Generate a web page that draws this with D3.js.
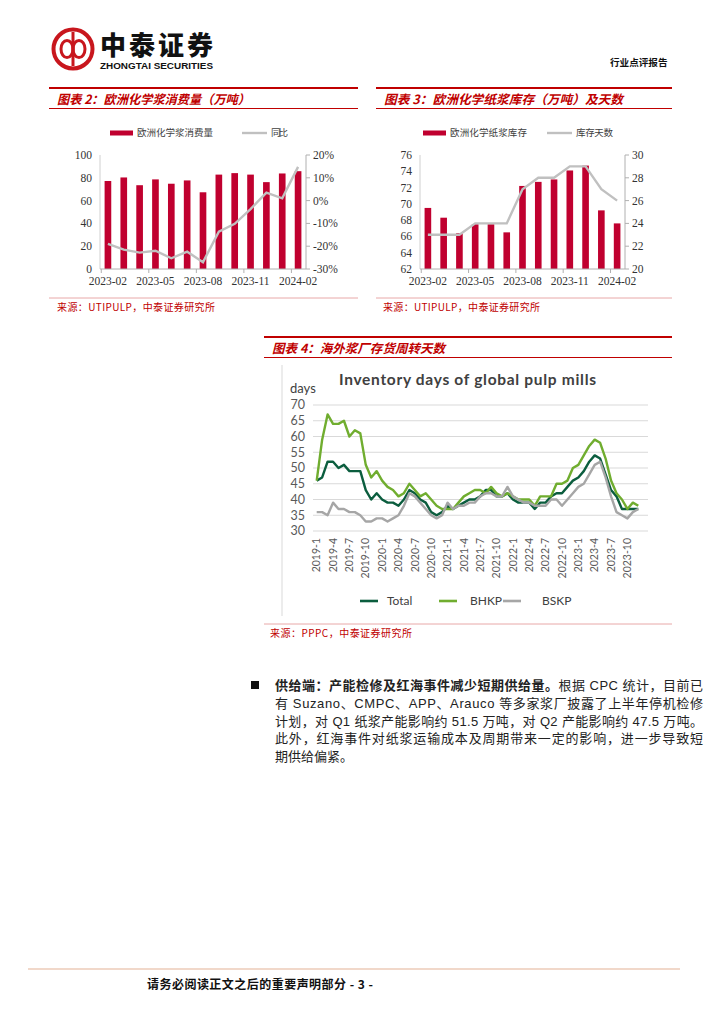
<!DOCTYPE html>
<html><head><meta charset="utf-8">
<script src="https://cdn.jsdelivr.net/npm/d3@7"></script>
<style>body{margin:0;background:#fff}svg{display:block}</style>
</head><body>
<svg id="page" width="724" height="1024"></svg>
<script>
// ---------- DATA ----------
const months2 = ["2023-02","2023-03","2023-04","2023-05","2023-06","2023-07","2023-08","2023-09","2023-10","2023-11","2023-12","2024-01","2024-02"];
const monthTicks2 = ["2023-02","2023-05","2023-08","2023-11","2024-02"];
const consumption = [77.2, 80.3, 73.5, 78.6, 74.8, 77.7, 67.3, 82.8, 84.1, 82.8, 76.2, 83.8, 85.8];
const consumptionYoY = [-19, -21.5, -22.8, -22, -25.3, -22.4, -27, -13.6, -10.2, -3.7, 3.5, 1, 14.8];
const leftTicks2 = [0, 20, 40, 60, 80, 100];
const rightTicks2 = [-30, -20, -10, 0, 10, 20];

const inventory = [69.5, 68.3, 66.4, 67.5, 67.5, 66.5, 72.2, 72.7, 73.0, 74.1, 74.7, 69.2, 67.6];
const inventoryDays = [23, 23, 23, 24, 24, 24, 27, 28, 28, 29, 29, 27, 26];
const leftTicks3 = [62, 64, 66, 68, 70, 72, 74, 76];
const rightTicks3 = [20, 22, 24, 26, 28, 30];

const pulpMonths = ["2019-1","2019-2","2019-3","2019-4","2019-5","2019-6","2019-7","2019-8","2019-9","2019-10","2019-11","2019-12",
"2020-1","2020-2","2020-3","2020-4","2020-5","2020-6","2020-7","2020-8","2020-9","2020-10","2020-11","2020-12",
"2021-1","2021-2","2021-3","2021-4","2021-5","2021-6","2021-7","2021-8","2021-9","2021-10","2021-11","2021-12",
"2022-1","2022-2","2022-3","2022-4","2022-5","2022-6","2022-7","2022-8","2022-9","2022-10","2022-11","2022-12",
"2023-1","2023-2","2023-3","2023-4","2023-5","2023-6","2023-7","2023-8","2023-9","2023-10","2023-11","2023-12"];
const pulpTicks = ["2019-1","2019-4","2019-7","2019-10","2020-1","2020-4","2020-7","2020-10","2021-1","2021-4","2021-7","2021-10","2022-1","2022-4","2022-7","2022-10","2023-1","2023-4","2023-7","2023-10"];
const totalDays = [46,47,52,52,50,51,49,49,49,43,40,42,40,39,39,38,40,43,42,40,39,36,35,36,38,37,38,39,40,40,41,43,43,41,41,42,40,39,39,39,37,39,39,41,42,42,44,46,47,49,52,54,53,48,43,41,37,37,37,37];
const bhkpDays  = [46,59,67,64,64,65,60,62,61,51,47,49,46,44,43,41,42,45,43,41,42,40,38,37,37,37,39,41,42,43,43,42,44,42,41,42,41,40,40,40,38,41,41,41,45,45,46,50,51,54,57,59,58,53,46,42,40,37,39,38];
const bskpDays  = [36,36,35,39,37,37,36,36,35,33,33,34,34,33,34,35,38,42,41,39,37,35,34,35,39,37,38,38,39,39,41,42,42,41,41,44,41,40,39,39,38,38,38,40,40,38,40,42,44,45,48,51,52,47,41,36,35,34,36,37];
const pulpYTicks = [30, 35, 40, 45, 50, 55, 60, 65, 70];

// ---------- STYLE ----------
const RED = "#c00000";
const BAR = "#c0002f";
const GREYLINE = "#c0c0c0";
const CJK = "'Noto Sans CJK SC', sans-serif";
const SERIF = "'Liberation Serif', 'DejaVu Serif', serif";

const svg = d3.select("#page");

// ---------- HEADER ----------
const logo = svg.append("g");
logo.append("circle").attr("cx", 73).attr("cy", 49).attr("r", 19.5).attr("fill", "none").attr("stroke", "#c8161d").attr("stroke-width", 4);
logo.append("ellipse").attr("cx", 67).attr("cy", 49).attr("rx", 6).attr("ry", 8.5).attr("fill", "none").attr("stroke", "#c8161d").attr("stroke-width", 3);
logo.append("ellipse").attr("cx", 79).attr("cy", 49).attr("rx", 6).attr("ry", 8.5).attr("fill", "none").attr("stroke", "#c8161d").attr("stroke-width", 3);
logo.append("line").attr("x1", 73).attr("x2", 73).attr("y1", 32).attr("y2", 66).attr("stroke", "#c8161d").attr("stroke-width", 3);
svg.append("text").attr("x", 100).attr("y", 55).attr("font-family", CJK).attr("font-weight", 900).attr("font-size", 26)
  .attr("textLength", 113).attr("fill", "#111").text("中泰证券");
svg.append("text").attr("x", 100).attr("y", 68.5).attr("font-family", "'Liberation Sans', Arial, sans-serif").attr("font-weight", 700).attr("font-size", 8.5)
  .attr("textLength", 113).attr("lengthAdjust", "spacingAndGlyphs").attr("fill", "#111").text("ZHONGTAI SECURITIES");
svg.append("text").attr("x", 610).attr("y", 66).attr("font-family", CJK).attr("font-weight", 700).attr("font-size", 9.6)
  .attr("fill", "#111").text("行业点评报告");

// ---------- helpers ----------
function titleBar(x0, x1, yTop, text, tx, width) {
  svg.append("line").attr("x1", x0).attr("x2", x1).attr("y1", yTop).attr("y2", yTop).attr("stroke", RED).attr("stroke-width", 2);
  svg.append("line").attr("x1", x0).attr("x2", x1).attr("y1", yTop + 20.5).attr("y2", yTop + 20.5).attr("stroke", RED).attr("stroke-width", 1.2);
  svg.append("text").attr("x", tx).attr("y", yTop + 16).attr("font-family", CJK).attr("font-weight", 700).attr("font-style", "italic")
    .attr("font-size", 12.5).attr("fill", RED).attr("textLength", width).attr("lengthAdjust", "spacingAndGlyphs").text(text);
}
function sourceBar(x0, x1, y, text, tx, width) {
  svg.append("line").attr("x1", x0).attr("x2", x1).attr("y1", y).attr("y2", y).attr("stroke", "#e8a8a8").attr("stroke-width", 1);
  svg.append("text").attr("x", tx).attr("y", y + 12.5).attr("font-family", CJK).attr("font-size", 10)
    .attr("fill", RED).attr("textLength", width).text(text);
}

function barLine(cfg) {
  const g = svg.append("g");
  const x = d3.scaleBand().domain(cfg.cats).range([cfg.x0, cfg.x1]).paddingInner(0.58).paddingOuter(0.29);
  const yL = d3.scaleLinear().domain(cfg.lDom).range([cfg.yB, cfg.yT]);
  const yR = d3.scaleLinear().domain(cfg.rDom).range([cfg.yB, cfg.yT]);
  g.selectAll("rect.bar").data(cfg.bars).join("rect").attr("class", "bar")
    .attr("x", (d, i) => x(cfg.cats[i])).attr("width", x.bandwidth())
    .attr("y", d => yL(d)).attr("height", d => cfg.yB - yL(d)).attr("fill", BAR);
  g.append("line").attr("x1", cfg.x0).attr("x2", cfg.x0).attr("y1", cfg.yT).attr("y2", cfg.yB).attr("stroke", "#d0d0d0");
  g.append("line").attr("x1", cfg.x1).attr("x2", cfg.x1).attr("y1", cfg.yT).attr("y2", cfg.yB).attr("stroke", "#b0b0b0");
  g.append("line").attr("x1", cfg.x0).attr("x2", cfg.x1).attr("y1", cfg.yB).attr("y2", cfg.yB).attr("stroke", "#b0b0b0");
  g.selectAll("line.rt").data(cfg.rTicks).join("line").attr("class", "rt")
    .attr("x1", cfg.x1).attr("x2", cfg.x1 + 4).attr("y1", d => yR(d)).attr("y2", d => yR(d)).attr("stroke", "#b0b0b0");
  g.selectAll("line.xt").data(cfg.xTicks).join("line").attr("class", "xt")
    .attr("x1", d => x(d) - x.step() * 0.21).attr("x2", d => x(d) - x.step() * 0.21)
    .attr("y1", cfg.yB).attr("y2", cfg.yB + 4).attr("stroke", "#b0b0b0");
  const line = d3.line().x((d, i) => x(cfg.cats[i]) + x.bandwidth() / 2).y(d => yR(d));
  g.append("path").datum(cfg.line).attr("d", line).attr("fill", "none").attr("stroke", GREYLINE).attr("stroke-width", 2.4);
  g.selectAll("text.lt").data(cfg.lTicks).join("text").attr("class", "lt")
    .attr("x", cfg.x0 - 8).attr("y", d => yL(d)).attr("dy", "0.35em").attr("text-anchor", "end")
    .attr("font-family", SERIF).attr("font-size", 11.5).attr("fill", "#333").text(d => d);
  g.selectAll("text.rtl").data(cfg.rTicks).join("text").attr("class", "rtl")
    .attr("x", cfg.x1 + 7).attr("y", d => yR(d)).attr("dy", "0.35em").attr("text-anchor", "start")
    .attr("font-family", SERIF).attr("font-size", 11.5).attr("fill", "#333").text(cfg.rFmt);
  g.selectAll("text.xl").data(cfg.xTicks).join("text").attr("class", "xl")
    .attr("x", d => x(d) + x.bandwidth() / 2).attr("y", cfg.yB + 16).attr("text-anchor", "middle")
    .attr("font-family", SERIF).attr("font-size", 11.5).attr("fill", "#333").text(d => d);
  const ly = cfg.legendY;
  g.append("rect").attr("x", cfg.leg[0]).attr("y", ly - 2.5).attr("width", 23).attr("height", 5).attr("fill", BAR);
  g.append("text").attr("x", cfg.leg[0] + 27).attr("y", ly).attr("dy", "0.35em").attr("font-family", CJK).attr("font-size", 9.5)
    .attr("fill", "#404040").attr("textLength", cfg.legW[0]).text(cfg.names[0]);
  g.append("line").attr("x1", cfg.leg[1]).attr("x2", cfg.leg[1] + 25).attr("y1", ly).attr("y2", ly).attr("stroke", GREYLINE).attr("stroke-width", 2.4);
  g.append("text").attr("x", cfg.leg[1] + 29).attr("y", ly).attr("dy", "0.35em").attr("font-family", CJK).attr("font-size", 9.5)
    .attr("fill", "#404040").attr("textLength", cfg.legW[1]).text(cfg.names[1]);
}

// ---------- CHART 2 ----------
titleBar(49, 358, 88, "图表 2：欧洲化学浆消费量（万吨）", 57, 193);
barLine({cats: months2, bars: consumption, line: consumptionYoY, x0: 100, x1: 306, yT: 155, yB: 269,
  lDom: [0, 100], rDom: [-30, 20], lTicks: leftTicks2, rTicks: rightTicks2, rFmt: d => d + "%",
  xTicks: monthTicks2, legendY: 133, leg: [110, 242], legW: [76, 17], names: ["欧洲化学浆消费量", "同比"]});
sourceBar(49, 358, 298, "来源：UTIPULP，中泰证券研究所", 57, 158);

// ---------- CHART 3 ----------
titleBar(376, 672, 88, "图表 3：欧洲化学纸浆库存（万吨）及天数", 384, 239);
barLine({cats: months2, bars: inventory, line: inventoryDays, x0: 420, x1: 625, yT: 155, yB: 269,
  lDom: [62, 76], rDom: [20, 30], lTicks: leftTicks3, rTicks: rightTicks3, rFmt: d => d,
  xTicks: monthTicks2, legendY: 133, leg: [423, 547], legW: [77, 37], names: ["欧洲化学纸浆库存", "库存天数"]});
sourceBar(376, 672, 298, "来源：UTIPULP，中泰证券研究所", 383, 157);

// ---------- CHART 4 ----------
titleBar(264, 672, 337, "图表 4：海外浆厂存货周转天数", 272, 173);
const g4 = svg.append("g");
const LATO = "Lato, 'Open Sans', sans-serif";
g4.append("line").attr("x1", 282).attr("x2", 282).attr("y1", 365).attr("y2", 616).attr("stroke", "#d9d9d9");
g4.append("text").attr("x", 339).attr("y", 385).attr("font-family", LATO).attr("font-weight", 700).attr("font-size", 15.5)
  .attr("fill", "#404040").attr("textLength", 257).text("Inventory days of global pulp mills");
g4.append("text").attr("x", 290).attr("y", 393).attr("font-family", LATO).attr("font-size", 13).attr("fill", "#404040").text("days");
const x4 = d3.scalePoint().domain(pulpMonths).range([316.7, 638.3]);
const y4 = d3.scaleLinear().domain([30, 70]).range([531, 405]);
g4.selectAll("line.grid").data(pulpYTicks).join("line").attr("class", "grid")
  .attr("x1", 313).attr("x2", 648).attr("y1", d => y4(d)).attr("y2", d => y4(d)).attr("stroke", "#d9d9d9").attr("stroke-width", 1);
g4.selectAll("text.yl").data(pulpYTicks).join("text").attr("class", "yl")
  .attr("x", 305).attr("y", d => y4(d)).attr("dy", "0.35em").attr("text-anchor", "end")
  .attr("font-family", LATO).attr("font-size", 12.5).attr("fill", "#595959").text(d => d);
g4.selectAll("text.xl").data(pulpTicks).join("text").attr("class", "xl")
  .attr("transform", d => `translate(${x4(d)},538) rotate(-90)`).attr("dy", "0.35em").attr("text-anchor", "end")
  .attr("font-family", LATO).attr("font-size", 10.5).attr("fill", "#595959").text(d => d);
const series4 = [
  {name: "Total", values: totalDays, color: "#0b5d3e"},
  {name: "BHKP", values: bhkpDays, color: "#70ad2f"},
  {name: "BSKP", values: bskpDays, color: "#a6a6a6"}
];
const line4 = d3.line().x((d, i) => x4(pulpMonths[i])).y(d => y4(d));
g4.selectAll("path.s").data(series4).join("path").attr("class", "s")
  .attr("d", d => line4(d.values)).attr("fill", "none").attr("stroke", d => d.color).attr("stroke-width", 2.4).attr("stroke-linejoin", "round");
const legX = [360, 439, 503];
const legTX = [387, 470, 542];
series4.forEach((s, i) => {
  g4.append("line").attr("x1", legX[i]).attr("x2", legX[i] + 18).attr("y1", 601).attr("y2", 601).attr("stroke", s.color).attr("stroke-width", 2.6);
  g4.append("text").attr("x", legTX[i]).attr("y", 601).attr("dy", "0.35em").attr("font-family", LATO).attr("font-size", 12)
    .attr("fill", "#404040").text(s.name);
});
sourceBar(264, 672, 624, "来源：PPPC，中泰证券研究所", 270, 142);

// ---------- PARAGRAPH ----------
const BODY = "'Liberation Sans', 'Noto Sans CJK SC', sans-serif";
svg.append("rect").attr("x", 251).attr("y", 681).attr("width", 8).attr("height", 8).attr("fill", "#111");
const paraLines = [
  [{t: "供给端：产能检修及红海事件减少短期供给量。", b: true}, {t: "根据 CPC 统计，目前已", b: false}],
  [{t: "有 Suzano、CMPC、APP、Arauco 等多家浆厂披露了上半年停机检修", b: false}],
  [{t: "计划，对 Q1 纸浆产能影响约 51.5 万吨，对 Q2 产能影响约 47.5 万吨。", b: false}],
  [{t: "此外，红海事件对纸浆运输成本及周期带来一定的影响，进一步导致短", b: false}],
  [{t: "期供给偏紧。", b: false}]
];
paraLines.forEach((ln, i) => {
  const t = svg.append("text").attr("x", 275).attr("y", 690 + i * 17.8).attr("font-family", BODY).attr("font-size", 13).attr("fill", "#222");
  if (i < 4) t.attr("textLength", 428).attr("lengthAdjust", "spacing");
  ln.forEach(p => t.append("tspan").attr("font-weight", p.b ? 700 : 400).attr("font-family", p.b ? CJK : BODY).text(p.t));
});

// ---------- FOOTER ----------
svg.append("line").attr("x1", 28).attr("x2", 680).attr("y1", 969).attr("y2", 969).attr("stroke", "#eccbb8").attr("stroke-width", 1.5);
svg.append("text").attr("x", 147).attr("y", 989).attr("font-family", CJK).attr("font-weight", 700).attr("font-size", 12)
  .attr("fill", "#111").attr("textLength", 226).text("请务必阅读正文之后的重要声明部分 - 3 -");
</script>
</body></html>
